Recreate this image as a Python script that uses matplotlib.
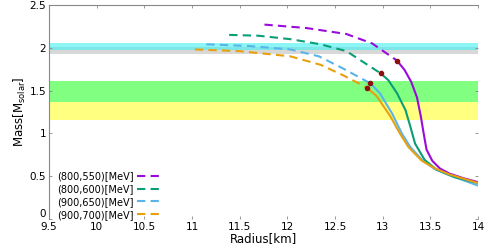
import matplotlib.pyplot as plt
import matplotlib.transforms as mtransforms
from matplotlib.lines import Line2D

# mass-radius curves, dashed part ends at the red dot, solid part starts there
labels = ["(800,550)[MeV]", "(800,600)[MeV]", "(900,650)[MeV]", "(900,700)[MeV]"]
colors = ["#9A0ADB", "#0A9E76", "#5AB4E8", "#E8A010"]

r_dash_800_550 = [11.76, 12.2, 12.62, 12.89, 13.15]
m_dash_800_550 = [2.27, 2.23, 2.16, 2.05, 1.85]
r_sol_800_550 = [13.15, 13.23, 13.30, 13.36, 13.40, 13.43, 13.46, 13.52, 13.60, 13.70, 13.85, 14.0]
m_sol_800_550 = [1.85, 1.74, 1.60, 1.42, 1.20, 1.00, 0.81, 0.68, 0.59, 0.53, 0.475, 0.43]

r_dash_800_600 = [11.39, 11.7, 12.03, 12.35, 12.62, 12.98]
m_dash_800_600 = [2.15, 2.14, 2.10, 2.04, 1.96, 1.70]
r_sol_800_600 = [12.98, 13.06, 13.15, 13.24, 13.29, 13.34, 13.44, 13.56, 13.75, 14.0]
m_sol_800_600 = [1.70, 1.62, 1.47, 1.27, 1.08, 0.88, 0.69, 0.58, 0.49, 0.42]

r_dash_900_650 = [11.15, 11.6, 12.03, 12.33, 12.58, 12.87]
m_dash_900_650 = [2.04, 2.02, 1.98, 1.90, 1.76, 1.585]
r_sol_900_650 = [12.87, 12.97, 13.10, 13.20, 13.29, 13.42, 13.55, 13.70, 13.85, 14.0]
m_sol_900_650 = [1.585, 1.47, 1.23, 1.00, 0.84, 0.68, 0.58, 0.51, 0.45, 0.39]

r_dash_900_700 = [11.03, 11.5, 12.03, 12.35, 12.6, 12.84]
m_dash_900_700 = [1.98, 1.96, 1.90, 1.80, 1.67, 1.53]
r_sol_900_700 = [12.84, 12.94, 13.08, 13.18, 13.27, 13.41, 13.55, 13.70, 13.85, 14.0]
m_sol_900_700 = [1.53, 1.43, 1.20, 1.00, 0.84, 0.68, 0.59, 0.52, 0.47, 0.42]

dashed = [
    (r_dash_800_550, m_dash_800_550),
    (r_dash_800_600, m_dash_800_600),
    (r_dash_900_650, m_dash_900_650),
    (r_dash_900_700, m_dash_900_700),
]
solid = [
    (r_sol_800_550, m_sol_800_550),
    (r_sol_800_600, m_sol_800_600),
    (r_sol_900_650, m_sol_900_650),
    (r_sol_900_700, m_sol_900_700),
]

# observational mass bands (low, high)
band_cyan = (1.97, 2.05)
band_gray = (1.93, 2.01)
band_green = (1.37, 1.61)
band_yellow = (1.16, 1.37)

plt.rcParams["font.family"] = "DejaVu Sans"
fig = plt.figure(figsize=(4.9, 2.46), dpi=100)
ax = fig.add_axes([0.1, 0.11, 0.8755, 0.87])

ax.axhspan(*band_gray, color="#d8d8d8", lw=0, zorder=1)
ax.axhspan(*band_cyan, color="#40f0f0", alpha=0.6, lw=0, zorder=1)
ax.axhspan(*band_green, color="#80ff80", lw=0, zorder=1)
ax.axhspan(*band_yellow, color="#ffff80", lw=0, zorder=1)

# blue drawn first so others sit on top where they overlap
order = [2, 1, 0, 3]
for i in order:
    r, m = solid[i]
    ax.plot(r, m, color=colors[i], lw=1.5, zorder=3, solid_joinstyle="round")
for i in order:
    r, m = dashed[i]
    ax.plot(r, m, color=colors[i], lw=1.5, ls=(0, (4, 2.5)), zorder=3)
    ax.plot(r[-1], m[-1], "o", color="#8b1010", ms=3, zorder=4)

ax.set_xlim(9.5, 14)
ax.set_ylim(0, 2.5)
ax.set_xticks([9.5, 10, 10.5, 11, 11.5, 12, 12.5, 13, 13.5, 14])
ax.set_xticklabels(["9.5", "10", "10.5", "11", "11.5", "12", "12.5", "13", "13.5", "14"])
ax.set_yticks([0, 0.5, 1, 1.5, 2, 2.5])
ax.set_yticklabels(["0", "0.5", "1", "1.5", "2", "2.5"])
ax.tick_params(direction="in", length=2, width=0.6, color="#888888",
               labelsize=7.5, pad=2, top=True, right=True)
# the reference lifts the "0" label a little above the corner
zero = ax.get_yticklabels()[0]
zero.set_transform(zero.get_transform() + mtransforms.ScaledTranslation(0, 4 / 72, fig.dpi_scale_trans))
for side in ["bottom", "right"]:
    ax.spines[side].set_visible(False)
for side in ["top", "left"]:
    ax.spines[side].set_color("#888888")
    ax.spines[side].set_linewidth(0.8)

ax.set_xlabel("Radius[km]", fontsize=8.5, labelpad=0)
ax.set_ylabel(r"Mass[M$_{\mathregular{solar}}$]", fontsize=8.5, labelpad=1)

handles = [Line2D([0], [0], color=c, lw=1.5, ls=(0, (4, 2.5))) for c in colors]
ax.legend(handles, labels, loc="upper left", bbox_to_anchor=(57 / 490, 1 - 171 / 246),
          bbox_transform=fig.transFigure, frameon=False, markerfirst=False,
          fontsize=7, handlelength=2.8, handletextpad=0.3, labelspacing=0.3,
          borderpad=0, borderaxespad=0)

fig.savefig("out.png", dpi=100)
